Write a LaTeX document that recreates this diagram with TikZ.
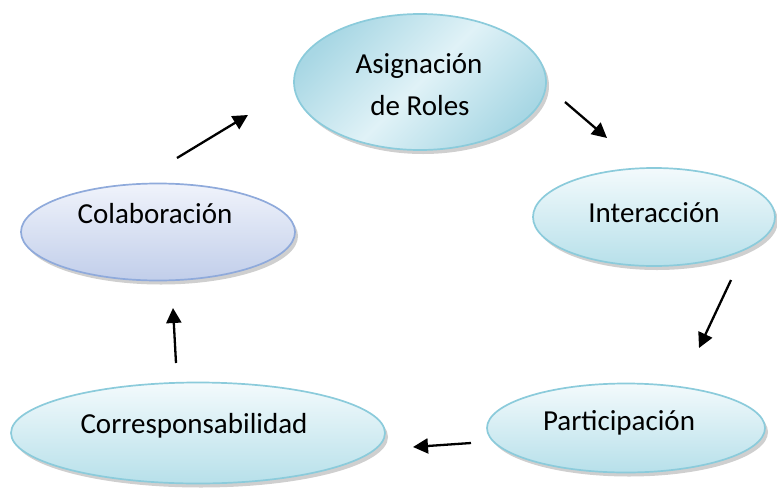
\documentclass[tikz,border=0pt]{standalone}
\usepackage{fontspec}
\setmainfont{Carlito}
\usetikzlibrary{arrows.meta,shapes.geometric,shadows,positioning}
\definecolor{edgecyan}{RGB}{139,203,219}
\definecolor{topcyan}{RGB}{243,250,252}
\definecolor{botcyan}{RGB}{183,224,234}
\definecolor{darkcyan}{RGB}{168,215,228}
\definecolor{lightcyan}{RGB}{224,242,247}
\definecolor{edgeblue}{RGB}{143,170,219}
\definecolor{topblue}{RGB}{240,243,251}
\definecolor{botblue}{RGB}{193,206,234}
\tikzset{
  bubble/.style={ellipse,draw=edgecyan,line width=1.7pt,top color=topcyan,bottom color=botcyan,inner sep=0pt,
    drop shadow={shadow xshift=3pt,shadow yshift=-4pt,fill=gray!75}},
  word/.style={anchor=base,font=\fontsize{29}{42}\selectfont,inner sep=0pt},
  flow/.style={line width=2.3pt,-{Triangle[length=15pt,width=15pt]}}
}
\begin{document}
\begin{tikzpicture}[x=1pt,y=-1pt]
\useasboundingbox (0,0) rectangle (777,493);
% the five bubbles
\node[bubble,top color=darkcyan,bottom color=darkcyan,middle color=lightcyan,shading angle=45,minimum width=252pt,minimum height=136pt](asig) at (420,82){};
\node[bubble,draw=edgeblue,top color=topblue,bottom color=botblue,minimum width=274pt,minimum height=97pt](colab) at (158,232){};
\node[bubble,minimum width=242pt,minimum height=98pt](inter) at (654,217){};
\node[bubble,minimum width=374pt,minimum height=101pt](corre) at (198,433){};
\node[bubble,minimum width=278pt,minimum height=89pt](parti) at (626,428){};
% texts
\node[word](asigtxt) at (419,73){Asignación};
\node[word](roltxt) at (420,115){de Roles};
\node[word](colabtxt) at (155,223){Colaboración};
\node[word](intertxt) at (654,222){Interacción};
\node[word](corretxt) at (194,433){Corresponsabilidad};
\node[word](partitxt) at (619,430){Participación};
% arrows
\coordinate (s1) at (177,158); \coordinate (t1) at (248,115);
\coordinate (s2) at (565,102); \coordinate (t2) at (607,138);
\coordinate (s3) at (731,280); \coordinate (t3) at (699,348);
\coordinate (s4) at (471,443); \coordinate (t4) at (413,447);
\coordinate (s5) at (176,363); \coordinate (t5) at (173,308);
\draw[flow](s1)--(t1);
\draw[flow](s2)--(t2);
\draw[flow](s3)--(t3);
\draw[flow](s4)--(t4);
\draw[flow](s5)--(t5);
\end{tikzpicture}
\end{document}
